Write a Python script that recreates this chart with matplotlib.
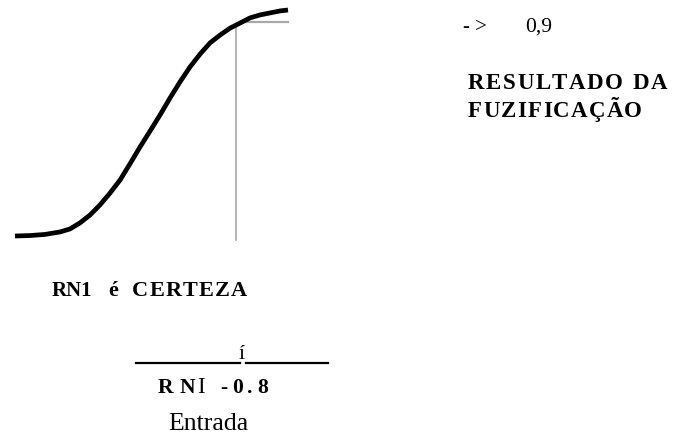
import matplotlib.pyplot as plt

# curva de pertinencia (entrada normalizada, grau de pertinencia)
entrada = [0, .055, .110, .165, .201, .238, .275, .311, .348, .385, .421, .458, .495,
           .531, .568, .604, .641, .678, .714, .751, .788, .824, .861, .897, .934, .971, 1.0]
pertinencia = [0, .002, .007, .018, .031, .058, .093, .137, .190, .248, .319, .394, .465,
               .535, .611, .681, .748, .805, .854, .889, .920, .942, .965, .978, .987, .996, 1.0]

entrada_corte = 0.81
grau_corte = 0.947

seta = "- >"
valor_saida = "0,9"
titulo = ["RESULTADO DA", "FUZIFICAÇÃO"]
regra = ["RN1", "é", "CERTEZA"]
rotulo_entrada = ["RN", "I", "-0.8"]
marca = "í"
eixo = "Entrada"

W, H = 677, 443
fig = plt.figure(figsize=(W / 100, H / 100), dpi=100)

# eixo da curva
ax = fig.add_axes([15 / W, 1 - 236 / H, 273 / W, 226 / H])
ax.set_xlim(0, 1)
ax.set_ylim(0, 1)
ax.axis("off")
ax.plot(entrada, pertinencia, color="black", lw=3.4, solid_capstyle="butt",
        solid_joinstyle="round", clip_on=False, zorder=3)
ax.plot([entrada_corte, entrada_corte], [-0.018, 0.93], color="#a8a8a8", lw=1.2, clip_on=False)
ax.plot([0.83, 1.0], [grau_corte, grau_corte], color="#a8a8a8", lw=1.6, clip_on=False)

# camada de textos em pixels
tx = fig.add_axes([0, 0, 1, 1])
tx.set_xlim(0, W)
tx.set_ylim(H, 0)
tx.axis("off")

serif = ["Liberation Serif", "DejaVu Serif"]
renderer = fig.canvas.get_renderer()


def texto_espacado(x0, x1, y, s, espaco=6, **kw):
    # desenha letra a letra, distribuindo o espaco para caber entre x0 e x1
    partes = []
    larguras = []
    for ch in s:
        if ch == " ":
            partes.append(None)
            larguras.append(espaco)
            continue
        t = tx.text(x0, y, ch, family=serif, va="baseline", **kw)
        partes.append(t)
        larguras.append(t.get_window_extent(renderer).width)
    n_gaps = len(s) - 1
    gap = max((x1 - x0 - sum(larguras)) / n_gaps, 0) if n_gaps else 0
    x = x0
    for t, w in zip(partes, larguras):
        if t is not None:
            t.set_x(x)
        x += w + gap


tx.text(463, 32, seta, fontsize=15, family=serif, va="baseline")
tx.text(525, 32, valor_saida, fontsize=15.5, family=serif, va="baseline")

texto_espacado(468, 667, 89, titulo[0], espaco=6, fontsize=16.5, weight="bold")
texto_espacado(468, 642, 117, titulo[1], fontsize=16.5, weight="bold")

tx.text(52, 296, regra[0], fontsize=15, family=serif, weight="bold", va="baseline")
tx.text(108, 296, regra[1], fontsize=16, family=serif, weight="bold", va="baseline")
texto_espacado(132, 247, 296, regra[2], fontsize=16, weight="bold")

tx.plot([136, 240], [363, 363], color="black", lw=1.6)
tx.plot([246, 328], [363, 363], color="black", lw=1.6)
tx.text(242, 359, marca, fontsize=16, family=serif, ha="center", va="baseline")

texto_espacado(158, 195, 393, rotulo_entrada[0], fontsize=15.5, weight="bold")
tx.text(197, 393, rotulo_entrada[1], fontsize=16.5, family=serif, va="baseline")
texto_espacado(220, 268, 393, rotulo_entrada[2], fontsize=15.5, weight="bold")

tx.text(208, 430, eixo, fontsize=18.5, family=serif, ha="center", va="baseline")

fig.savefig("out.png", dpi=100)
